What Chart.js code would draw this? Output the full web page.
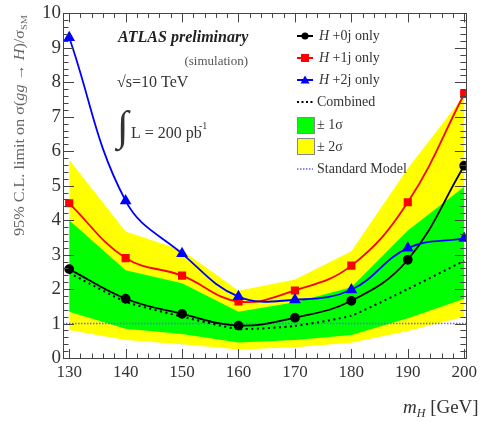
<!DOCTYPE html>
<html>
<head>
<meta charset="utf-8">
<script src="https://cdn.jsdelivr.net/npm/chart.js@4"></script>
<style>
html,body{margin:0;padding:0;background:#fff;}
#wrap{position:relative;width:481px;height:422px;}
</style>
</head>
<body>
<div id="wrap"><canvas id="c" width="481" height="422"></canvas></div>
<script>
// ---- data ----
const masses = [130, 140, 150, 160, 170, 180, 190, 200];
const h0j = [2.58, 1.72, 1.28, 0.94, 1.17, 1.66, 2.85, 5.58];
const h1j = [4.49, 2.90, 2.39, 1.64, 1.96, 2.68, 4.52, 7.66];
const h2j = [9.30, 4.56, 3.03, 1.78, 1.69, 1.98, 3.19, 3.47];
const combined = [2.47, 1.63, 1.20, 0.84, 0.93, 1.23, 2.00, 2.82];
const sigma1Up = [4.00, 2.55, 2.17, 1.34, 1.62, 2.05, 3.70, 4.97];
const sigma1Dn = [1.34, 0.85, 0.70, 0.45, 0.52, 0.67, 1.15, 1.72];
const sigma2Up = [5.75, 3.67, 3.13, 1.95, 2.28, 3.10, 5.50, 7.62];
const sigma2Dn = [0.81, 0.52, 0.40, 0.25, 0.31, 0.44, 0.78, 1.20];
const smValue = 1;
const xTicks = [130, 140, 150, 160, 170, 180, 190, 200];
const yTicks = [0, 1, 2, 3, 4, 5, 6, 7, 8, 9, 10];
const xMin = 128.9, xMax = 200.3, yMin = 0, yMax = 10;

const pts = arr => masses.map((m, i) => ({x: m, y: arr[i]}));
const SERIF = '"Liberation Serif", "DejaVu Serif", serif';
const TXT = '#333';

function drawRich(ctx, parts, x, y) {
  let cx = x;
  for (const p of parts) {
    ctx.font = p.font;
    ctx.fillText(p.t, cx, y + (p.dy || 0));
    cx += ctx.measureText(p.t).width;
  }
  return cx - x;
}
function richWidth(ctx, parts) {
  let w = 0;
  for (const p of parts) { ctx.font = p.font; w += ctx.measureText(p.t).width; }
  return w;
}

const decor = {
  id: 'decor',
  afterDatasetsDraw(chart) {
    const ctx = chart.ctx;
    const xs = chart.scales.x, ys = chart.scales.y;
    const a = chart.chartArea;
    ctx.save();
    // frame
    ctx.strokeStyle = '#444';
    ctx.lineWidth = 1;
    ctx.strokeRect(Math.round(a.left) + 0.5, Math.round(a.top) + 0.5, Math.round(a.right - a.left), Math.round(a.bottom - a.top));
    ctx.beginPath();
    for (let v = yMin; v <= yMax + 1e-6; v += 0.2) {
      const py = Math.round(ys.getPixelForValue(v)) + 0.5;
      const major = Math.abs(v - Math.round(v)) < 1e-6;
      const len = major ? 11 : 5.5;
      ctx.moveTo(a.left, py); ctx.lineTo(a.left + len, py);
      ctx.moveTo(a.right, py); ctx.lineTo(a.right - len, py);
    }
    for (let v = 130; v <= 200 + 1e-6; v += 2) {
      const px = Math.round(xs.getPixelForValue(v)) + 0.5;
      const major = Math.abs(v / 10 - Math.round(v / 10)) < 1e-6;
      const len = major ? 9 : 4.5;
      ctx.moveTo(px, a.bottom); ctx.lineTo(px, a.bottom - len);
      ctx.moveTo(px, a.top); ctx.lineTo(px, a.top + len);
    }
    ctx.stroke();

    // annotation texts
    ctx.fillStyle = '#222';
    ctx.textBaseline = 'alphabetic';
    ctx.textAlign = 'left';
    ctx.font = 'italic bold 16px ' + SERIF;
    ctx.fillText('ATLAS preliminary', 118, 42);
    ctx.fillStyle = '#555';
    ctx.font = '13px ' + SERIF;
    ctx.textAlign = 'right';
    ctx.fillText('(simulation)', 248, 65);
    ctx.textAlign = 'left';
    ctx.fillStyle = TXT;
    ctx.font = '16px ' + SERIF;
    ctx.fillText('√s=10 TeV', 117, 87);
    ctx.font = '42px ' + SERIF;
    ctx.fillText('∫', 117, 140);
    ctx.font = '16px ' + SERIF;
    ctx.fillText('L = 200 pb', 131, 138);
    ctx.font = '10px ' + SERIF;
    ctx.fillText('-1', 199, 129);

    // legend
    const lx0 = 297, lx1 = 313, tx = 319;
    const rows = [36, 58, 80, 102, 125, 147, 169];
    const F = '14px ' + SERIF;
    const lineItems = [
      {c: '#000', s: 'circle', label: '+0j only'},
      {c: '#f00', s: 'rect', label: '+1j only'},
      {c: '#00f', s: 'triangle', label: '+2j only'}
    ];
    lineItems.forEach((it, i) => {
      const y = rows[i];
      ctx.strokeStyle = it.c; ctx.lineWidth = 2; ctx.setLineDash([]);
      ctx.beginPath(); ctx.moveTo(lx0, y); ctx.lineTo(lx1, y); ctx.stroke();
      ctx.fillStyle = it.c;
      const mx = (lx0 + lx1) / 2;
      ctx.beginPath();
      if (it.s === 'circle') { ctx.arc(mx, y, 3.5, 0, Math.PI * 2); }
      else if (it.s === 'rect') { ctx.rect(mx - 4, y - 4, 8, 8); }
      else { ctx.moveTo(mx, y - 4.5); ctx.lineTo(mx + 4.5, y + 3.5); ctx.lineTo(mx - 4.5, y + 3.5); ctx.closePath(); }
      ctx.fill();
      ctx.fillStyle = TXT;
      ctx.textBaseline = 'middle';
      drawRich(ctx, [{t: 'H ', font: 'italic ' + F}, {t: it.label, font: F}], tx, y);
    });
    ctx.strokeStyle = '#000'; ctx.lineWidth = 2; ctx.setLineDash([2, 2.5]);
    ctx.beginPath(); ctx.moveTo(lx0, rows[3]); ctx.lineTo(lx1, rows[3]); ctx.stroke();
    ctx.setLineDash([]);
    ctx.fillStyle = TXT; ctx.font = F;
    ctx.fillText('Combined', tx - 2, rows[3]);
    ctx.lineWidth = 1; ctx.strokeStyle = '#888';
    ctx.fillStyle = '#00ff00'; ctx.fillRect(297, 117, 17, 16); ctx.strokeRect(297.5, 117.5, 17, 16);
    ctx.fillStyle = '#ffff00'; ctx.fillRect(297, 138, 17, 16); ctx.strokeRect(297.5, 138.5, 17, 16);
    ctx.fillStyle = TXT;
    ctx.fillText('± 1σ', tx - 2, rows[4]);
    ctx.fillText('± 2σ', tx - 2, rows[5]);
    ctx.strokeStyle = '#6666ff'; ctx.lineWidth = 1.5; ctx.setLineDash([1.5, 1.5]);
    ctx.beginPath(); ctx.moveTo(lx0, rows[6]); ctx.lineTo(lx1, rows[6]); ctx.stroke();
    ctx.setLineDash([]);
    ctx.fillText('Standard Model', tx - 2, rows[6]);

    // x title
    ctx.textBaseline = 'alphabetic';
    ctx.fillStyle = TXT;
    drawRich(ctx, [
      {t: 'm', font: 'italic 19px ' + SERIF},
      {t: 'H', font: 'italic 12px ' + SERIF, dy: 4},
      {t: ' [GeV]', font: '19px ' + SERIF}
    ], 403, 413);

    // y title
    const yparts = [
      {t: '95% C.L. limit on σ(', font: '14px ' + SERIF},
      {t: 'gg', font: 'italic 14px ' + SERIF},
      {t: ' → ', font: '14px ' + SERIF},
      {t: 'H', font: 'italic 14px ' + SERIF},
      {t: ')/σ', font: '14px ' + SERIF},
      {t: 'SM', font: '9px ' + SERIF, dy: 3}
    ];
    ctx.save();
    ctx.translate(24, 236);
    ctx.rotate(-Math.PI / 2);
    ctx.fillStyle = '#666';
    const w = richWidth(ctx, yparts);
    ctx.scale(221 / w, 1);
    drawRich(ctx, yparts, 0, 0);
    ctx.restore();

    ctx.restore();
  }
};

const base = {pointRadius: 0, borderWidth: 0, tension: 0, fill: false};
new Chart(document.getElementById('c'), {
  type: 'line',
  data: {
    datasets: [
      Object.assign({}, base, {label: '2s up', data: pts(sigma2Up), fill: '+1', backgroundColor: '#ffff00', borderColor: '#ffff00', order: 10}),
      Object.assign({}, base, {label: '2s dn', data: pts(sigma2Dn), borderColor: '#ffff00', order: 10}),
      Object.assign({}, base, {label: '1s up', data: pts(sigma1Up), fill: '+1', backgroundColor: '#00ff00', borderColor: '#00ff00', order: 9}),
      Object.assign({}, base, {label: '1s dn', data: pts(sigma1Dn), borderColor: '#00ff00', order: 9}),
      {label: 'Standard Model', data: [{x: xMin, y: smValue}, {x: xMax, y: smValue}], borderColor: '#6666ff', borderWidth: 1.5, borderDash: [1.5, 1.5], pointRadius: 0, fill: false, order: 8},
      {label: 'Combined', data: pts(combined), borderColor: '#000', borderWidth: 2, borderDash: [2, 3.5], pointRadius: 0, tension: 0.15, fill: false, order: 5},
      {label: 'H+0j only', data: pts(h0j), borderColor: '#000', backgroundColor: '#000', borderWidth: 1.8, pointStyle: 'circle', pointRadius: 4, tension: 0.4, fill: false, order: 3},
      {label: 'H+1j only', data: pts(h1j), borderColor: '#f00', backgroundColor: '#f00', borderWidth: 1.8, pointStyle: 'rect', pointRadius: 4.5, tension: 0.4, fill: false, order: 2},
      {label: 'H+2j only', data: pts(h2j), borderColor: '#00f', backgroundColor: '#00f', borderWidth: 1.8, pointStyle: 'triangle', pointRadius: 5, tension: 0.4, fill: false, order: 1}
    ]
  },
  options: {
    responsive: false,
    animation: false,
    layout: {padding: {top: 13, right: 9, left: 0, bottom: 0}},
    plugins: {legend: {display: false}, tooltip: {enabled: false}, title: {display: false}},
    elements: {point: {borderWidth: 0}},
    scales: {
      x: {
        type: 'linear', min: xMin, max: xMax,
        grid: {display: false, drawTicks: false}, border: {display: false},
        afterBuildTicks: s => { s.ticks = xTicks.map(v => ({value: v})); },
        afterFit: s => { s.height = 64; },
        ticks: {color: TXT, font: {family: SERIF, size: 17}, padding: 4, maxRotation: 0, autoSkip: false}
      },
      y: {
        type: 'linear', min: yMin, max: yMax,
        grid: {display: false, drawTicks: false}, border: {display: false},
        afterBuildTicks: s => { s.ticks = yTicks.map(v => ({value: v})); },
        afterFit: s => { s.width = 63; },
        ticks: {color: TXT, font: {family: SERIF, size: 19}, padding: 2}
      }
    }
  },
  plugins: [decor]
});
</script>
</body>
</html>
